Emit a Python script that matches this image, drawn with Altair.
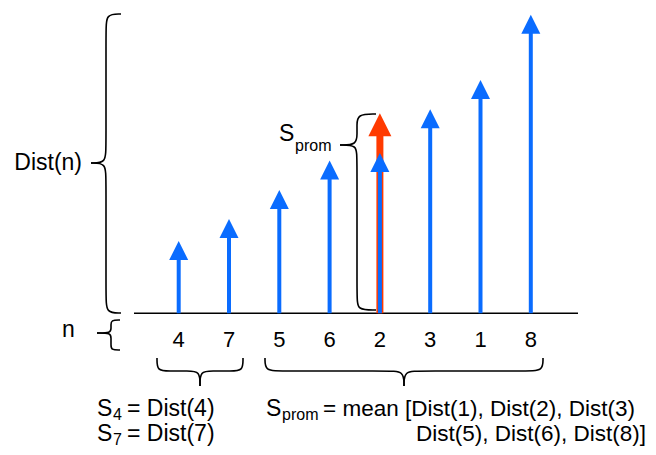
import altair as alt
import pandas as pd

# ---- data ----
n_labels = ["4", "7", "5", "6", "2", "3", "1", "8"]
dist_values = [2.41, 3.14, 4.11, 5.09, 5.34, 6.80, 7.78, 9.95]
mean_label = "2"
mean_value = 6.67

# ---- layout calibration (page px -> data units) ----
X0, DX = 178.7, 50.3
Y0, DY = 313.3, 30.0
W, H = 640, 439


def ux(px):
    return (px - X0) / DX


def uy(py):
    return (Y0 - py) / DY


xscale = alt.Scale(domain=[ux(8), ux(8 + W)], nice=False, zero=False)
yscale = alt.Scale(domain=[uy(8 + H), uy(8)], nice=False, zero=False)

BLUE = "#0A6CFF"
RED = "#FF3A00"
FONT = "Liberation Sans"

arrows = pd.DataFrame({
    "pos": list(range(len(n_labels))),
    "label": n_labels,
    "value": dist_values,
})
mean_df = pd.DataFrame({"pos": [n_labels.index(mean_label)], "value": [mean_value]})


def X(field="pos"):
    return alt.X(f"{field}:Q", scale=xscale, axis=None)


def Y(field):
    return alt.Y(f"{field}:Q", scale=yscale, axis=None)


# baseline
base_df = pd.DataFrame({"x": [ux(134)], "x2": [ux(578)], "y": [0.0]})
baseline = alt.Chart(base_df).mark_rule(color="black", strokeWidth=1.5).encode(
    x=X("x"), x2="x2:Q", y=Y("y")
)

# red mean arrow
red_shaft = alt.Chart(mean_df).transform_calculate(zero="0").mark_rule(
    color=RED, strokeWidth=7, y2Offset=12
).encode(x=X(), y=Y("zero"), y2="value:Q")
red_head = alt.Chart(mean_df).mark_point(
    shape="M0,-1L1,1L-1,1Z", filled=True, size=529, color=RED, opacity=1,
    strokeWidth=0, yOffset=11.5
).encode(x=X(), y=Y("value"))

# blue arrows
blue_shaft = alt.Chart(arrows).transform_calculate(zero="0").mark_rule(
    color=BLUE, strokeWidth=4, y2Offset=10
).encode(x=X(), y=Y("zero"), y2="value:Q")
blue_head = alt.Chart(arrows).mark_point(
    shape="M0,-1L1,1L-1,1Z", filled=True, size=361, color=BLUE, opacity=1,
    strokeWidth=0, yOffset=9.5
).encode(x=X(), y=Y("value"))

# tick labels
tick_df = arrows.assign(ty=uy(340))
ticks = alt.Chart(tick_df).mark_text(
    font=FONT, fontSize=22, color="black", baseline="middle", align="center"
).encode(x=X(), y=Y("ty"), text="label:N")


# braces
rows = []


def vbrace(name, xt, xs, xp, top, ym, bottom, e):
    up = [(xt, top), (xs, top), (xs, top + e), (xs, ym - e), (xs, ym), (xp, ym)]
    lo = [(xp, ym), (xs, ym), (xs, ym + e), (xs, bottom - e), (xs, bottom), (xt, bottom)]
    for part, pts in (("u", up), ("l", lo)):
        for k, (px, py) in enumerate(pts):
            rows.append({"part": name + part, "k": k, "x": ux(px), "y": uy(py)})


def hbrace(name, xl, xm, xr, yt, yf, yp, e):
    le = [(xl, yt), (xl, yf), (xl + e, yf), (xm - e, yf), (xm, yf), (xm, yp)]
    ri = [(xm, yp), (xm, yf), (xm + e, yf), (xr - e, yf), (xr, yf), (xr, yt)]
    for part, pts in (("a", le), ("b", ri)):
        for k, (px, py) in enumerate(pts):
            rows.append({"part": name + part, "k": k, "x": ux(px), "y": uy(py)})


vbrace("dist", 121, 106, 91, 14, 163, 313, 16)
vbrace("sprom", 376, 357, 340, 114, 145, 310, 12)
vbrace("n", 120, 111, 97, 320, 333, 350, 5)
hbrace("b1", 157, 200, 243, 358, 371, 386, 12)
hbrace("b2", 265, 404, 543, 358, 371, 386, 16)
brace_df = pd.DataFrame(rows)
braces = alt.Chart(brace_df).mark_line(
    interpolate="basis", color="black", strokeWidth=1.6
).encode(x=X("x"), y=Y("y"), detail="part:N", order="k:Q")

# annotation texts
left_txt = [
    ("n", 62, 330, 23),
    ("S", 279, 134, 23),
    ("prom", 295, 146, 16),
    ("S", 97, 409, 23),
    ("4", 113, 415, 16),
    ("= Dist(4)", 127, 409, 23),
    ("S", 97, 434, 23),
    ("7", 113, 440, 16),
    ("= Dist(7)", 127, 434, 23),
    ("S", 266, 409, 23),
    ("prom", 282, 415, 16),
    ("= mean [Dist(1), Dist(2), Dist(3)", 323, 409, 22.5),
]
right_txt = [
    ("Dist(n)", 82, 163, 23),
    ("Dist(5), Dist(6), Dist(8)]", 646, 434, 22.5),
]


def txt_df(items):
    return pd.DataFrame({
        "t": [i[0] for i in items],
        "x": [ux(i[1]) for i in items],
        "y": [uy(i[2]) for i in items],
        "fs": [i[3] for i in items],
    })


left_text = alt.Chart(txt_df(left_txt)).mark_text(
    font=FONT, color="black", baseline="middle", align="left"
).encode(x=X("x"), y=Y("y"), text="t:N", size=alt.Size("fs:Q", scale=None, legend=None))
right_text = alt.Chart(txt_df(right_txt)).mark_text(
    font=FONT, color="black", baseline="middle", align="right"
).encode(x=X("x"), y=Y("y"), text="t:N", size=alt.Size("fs:Q", scale=None, legend=None))

chart = alt.layer(
    baseline, red_shaft, red_head, blue_shaft, blue_head, ticks, braces,
    left_text, right_text
).properties(
    width=W, height=H, autosize=alt.AutoSizeParams(type="none"), padding=0,
    background="white"
).configure_view(stroke=None)

chart.save("out.html", embed_options={"renderer": "svg", "actions": False})
